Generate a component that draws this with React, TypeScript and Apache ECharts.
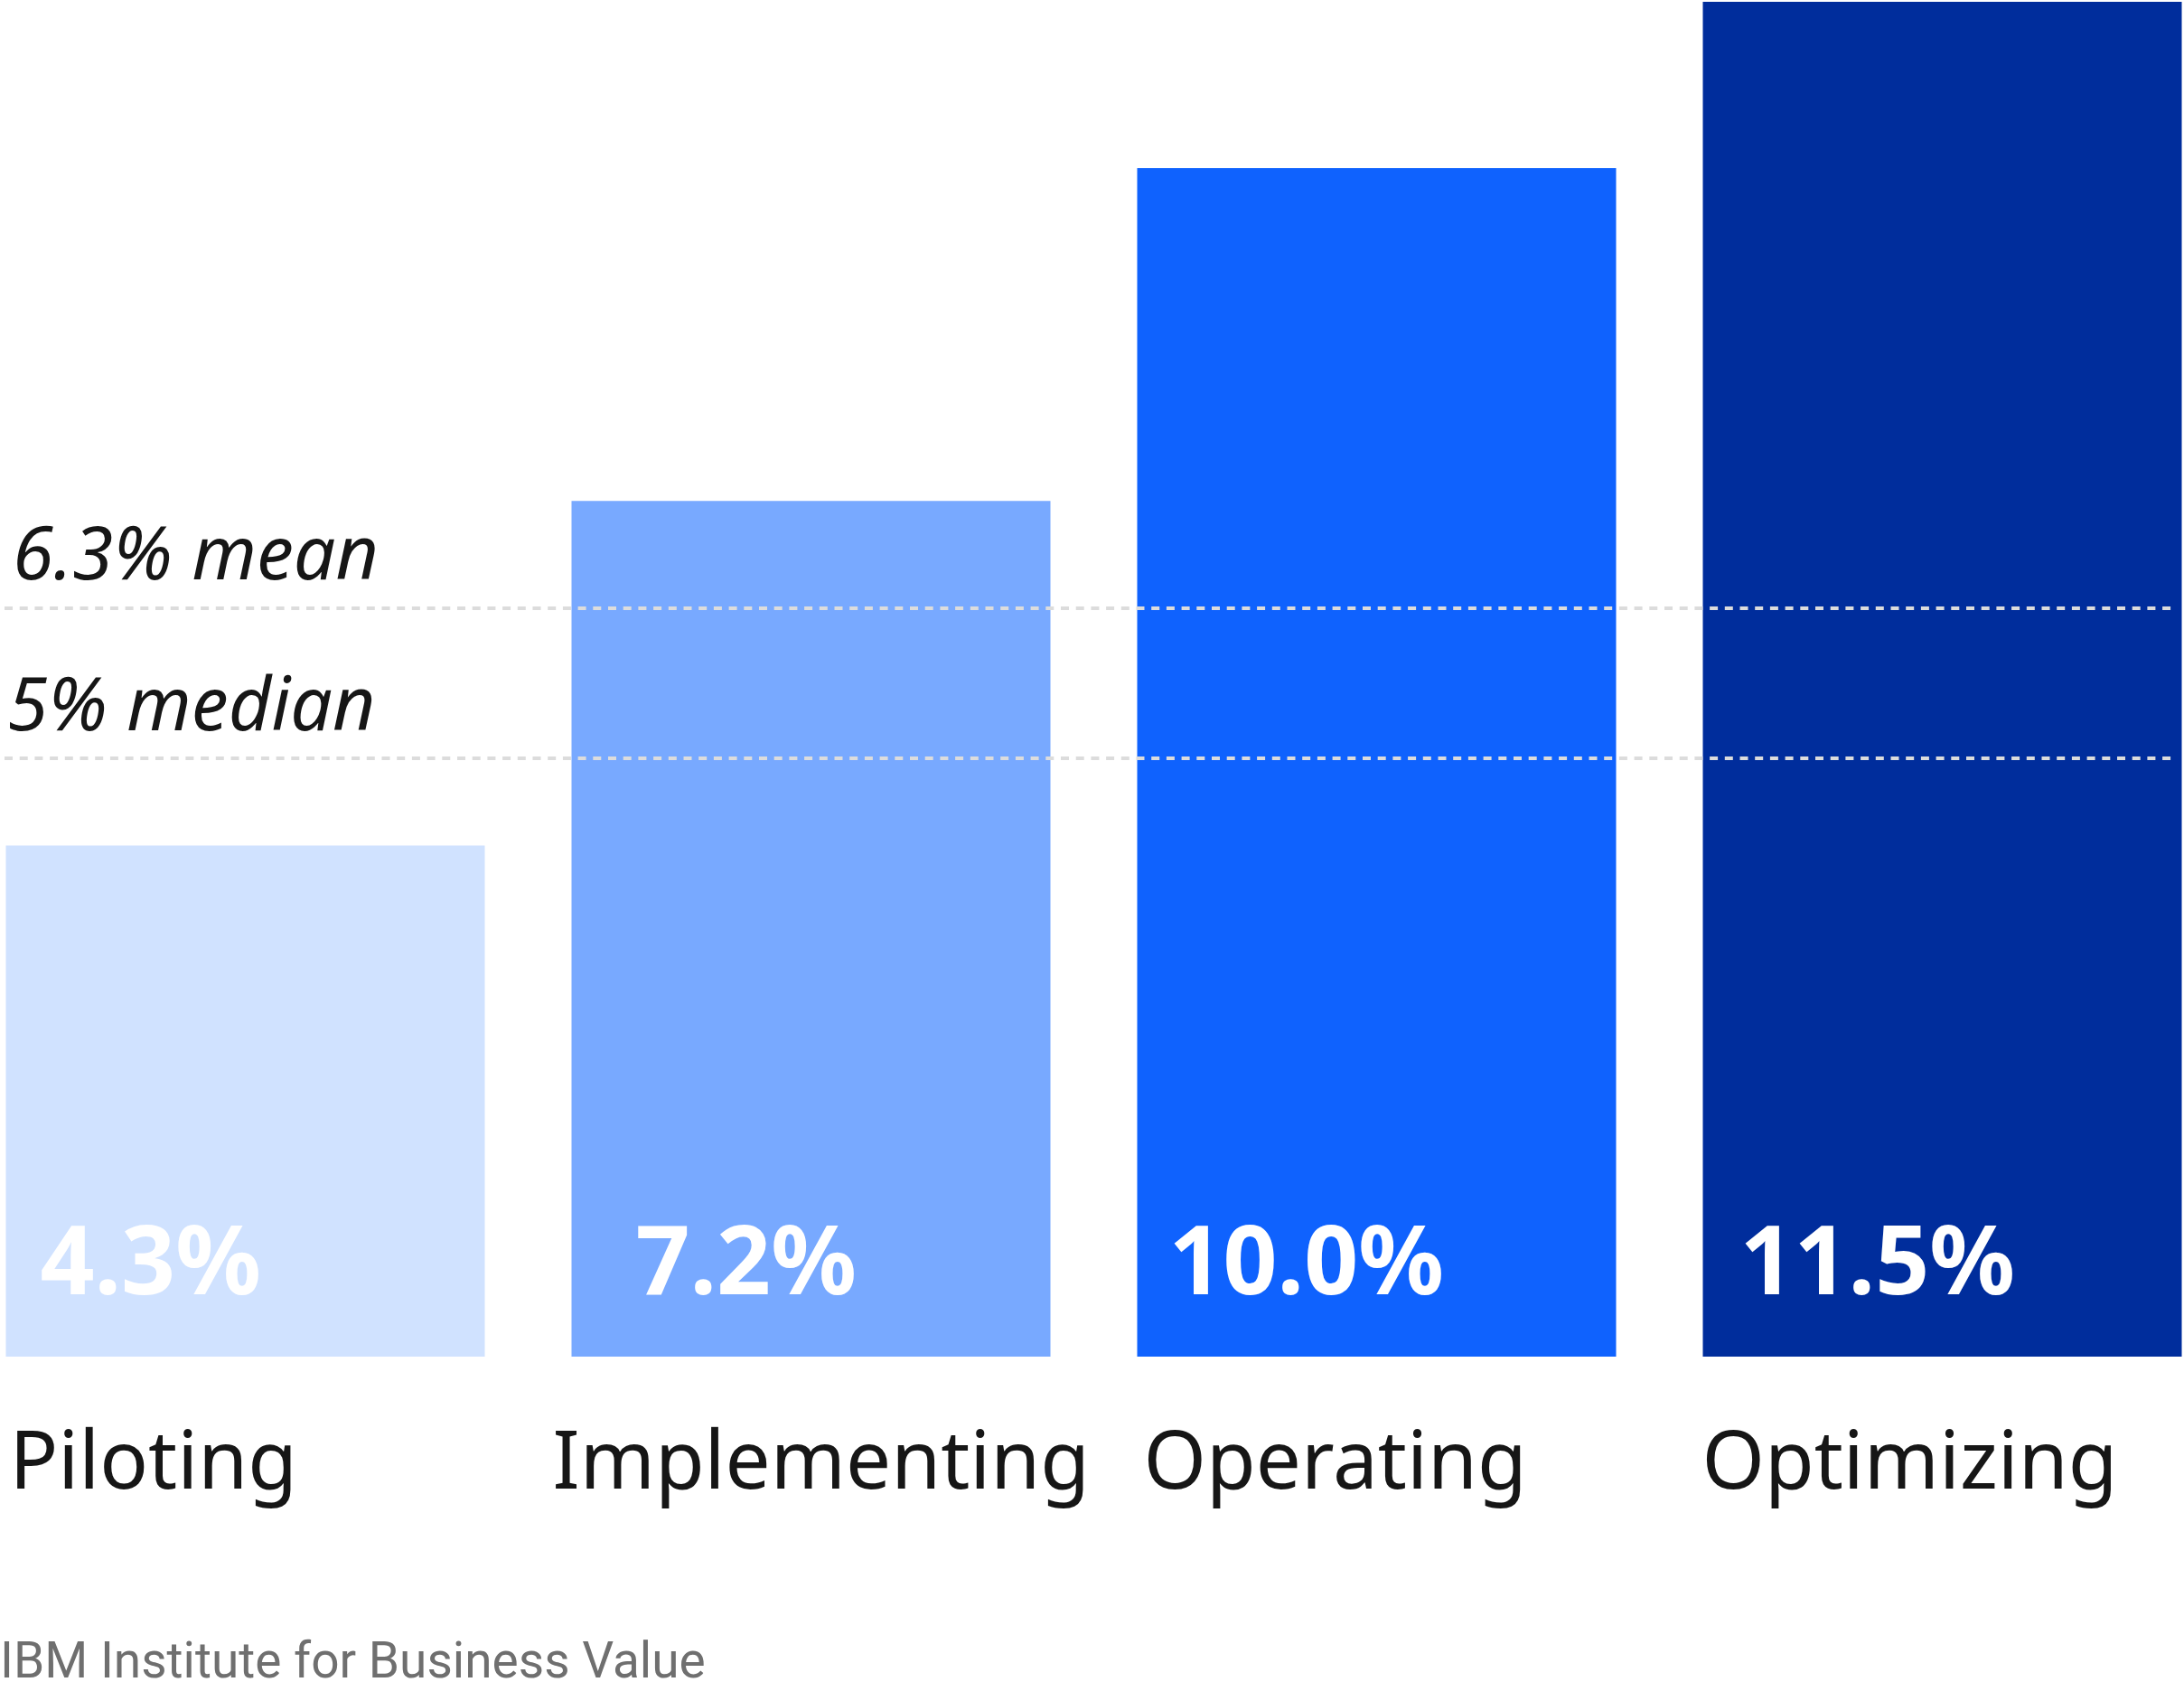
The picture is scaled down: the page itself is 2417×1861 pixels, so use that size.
import React, { useEffect, useRef } from 'react';
import * as echarts from 'echarts';

// ---- data ----
const categories = ['Piloting', 'Implementing', 'Operating', 'Optimizing'];
const values = [4.3, 7.2, 10.0, 11.5];
const refLineValues = [6.3, 5.04];
const refLineLabels = ['6.3% mean', '5% median'];
const sourceText = 'IBM Institute for Business Value';

// ---- styling ----
const barColors = ['#d0e2ff', '#78a9ff', '#0f62fe', '#002d9c'];
const valueLabelDx = [38, 71, 35, 41];
const categoryLabelShift = [-261, -286, -258, -266];
const refLabelDx = [9, 3];
const refLabelDy = [23, 21];

export default function App() {
  const ref = useRef<HTMLDivElement>(null);

  useEffect(() => {
    if (!ref.current) return;
    const chart = echarts.init(ref.current, null, { renderer: 'svg' });
    const option: any = {
      animation: false,
      backgroundColor: '#ffffff',
      grid: {
        left: -41.5,
        right: -45.5,
        top: 2,
        bottom: 360,
        containLabel: false,
        outerBoundsMode: 'none',
      },
      xAxis: {
        type: 'category',
        data: categories.map((c, i) => ({
          value: c,
          textStyle: {
            align: 'left',
            verticalAlign: 'top',
            padding: [0, 0, 0, categoryLabelShift[i]],
          },
        })),
        axisLine: { show: false },
        axisTick: { show: false },
        splitLine: { show: false },
        axisLabel: {
          interval: 0,
          align: 'left',
          margin: 67,
          fontFamily: 'Noto Sans',
          fontSize: 89,
          lineHeight: 89,
          color: '#161616',
        },
      },
      yAxis: {
        type: 'value',
        min: 0,
        max: 11.4,
        show: false,
        splitLine: { show: false },
      },
      graphic: [
        {
          type: 'text',
          left: 0,
          top: 1809,
          style: {
            text: sourceText,
            font: '55px Roboto',
            lineHeight: 44,
            fill: '#6f6f6f',
          },
        },
      ],
      series: [
        {
          type: 'bar',
          barWidth: 530,
          data: values.map((v, i) => ({
            value: v,
            itemStyle: { color: barColors[i] },
            label: { offset: [valueLabelDx[i], -58] },
          })),
          label: {
            show: true,
            position: 'insideBottomLeft',
            distance: 0,
            color: '#ffffff',
            fontFamily: 'Noto Sans',
            fontWeight: 'bold',
            fontSize: 105,
            lineHeight: 104,
            formatter: (p: any) => Number(p.value).toFixed(1) + '%',
          },
          emphasis: { disabled: true },
          markLine: {
            silent: true,
            symbol: ['none', 'none'],
            lineStyle: { color: '#dcdcdc', width: 4, type: [9, 7.7] },
            label: {
              show: true,
              position: 'insideStartTop',
              color: '#161616',
              fontFamily: 'Noto Sans',
              fontStyle: 'italic',
              fontSize: 82,
              lineHeight: 82,
            },
            emphasis: { disabled: true },
            data: refLineValues.map((v, i) => [
              {
                x: 5,
                yAxis: v,
                label: { formatter: refLineLabels[i], distance: [refLabelDx[i], refLabelDy[i]] },
              },
              { x: 2408, yAxis: v },
            ]),
          },
        },
      ],
    };
    chart.setOption(option);
    return () => chart.dispose();
  }, []);

  return (
    <div
      ref={ref}
      style={{ position: 'fixed', left: 0, top: 0, width: 2417, height: 1861, background: '#fff' }}
    />
  );
}
